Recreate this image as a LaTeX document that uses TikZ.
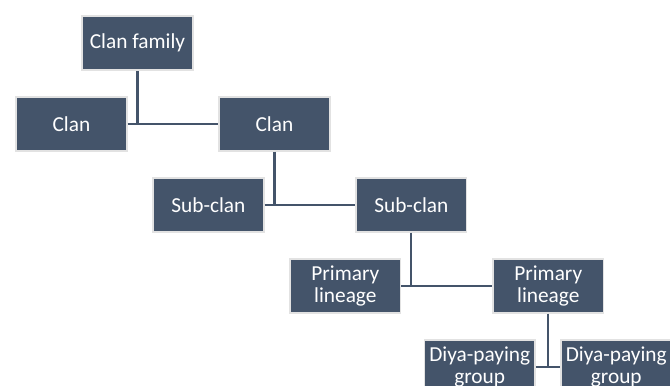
\documentclass[tikz,border=0pt]{standalone}
\usepackage{fontspec}
\setmainfont{Carlito}
\usepackage{xcolor}
\usetikzlibrary{positioning}
\definecolor{slate}{HTML}{44546A}
\definecolor{rim}{HTML}{E2E2E2}

\begin{document}
\begin{tikzpicture}[%
    node distance=19pt and 18.5pt,
    unit/.style={%
      rectangle,
      fill=slate,
      draw=rim,
      line width=1.2pt,
      minimum width=83pt,
      minimum height=40.5pt,
      align=center,
      text=white,
      font=\fontsize{16}{16.5}\selectfont
    },
    link/.style={%
      draw=slate,
      line width=1.7pt
    }
  ]
    \useasboundingbox (0,0) rectangle (502.5pt,-288.75pt);

    \node[unit] (family) at (103.1pt,-32.3pt)                   {Clan family};
    \node[unit] (clan2)  [below right=of family]                  {Clan};
    \node[unit] (clan1)  [node distance=68pt,left=of clan2]       {Clan};
    \node[unit] (sub2)   [below right=of clan2]                   {Sub-clan};
    \node[unit] (sub1)   [node distance=68pt,left=of sub2]        {Sub-clan};
    \node[unit] (prim2)  [below right=of sub2]                    {Primary\\lineage};
    \node[unit] (prim1)  [node distance=68pt,left=of prim2]       {Primary\\lineage};
    \node[unit] (diya1)  [below=of prim2,xshift=-51.4pt]          {Diya-paying\\group};
    \node[unit] (diya2)  [below=of prim2,xshift=51pt]             {Diya-paying\\group};

    % parent down to the bar between its two children
    \draw[link] (family.south) -- (family.south |- clan1.east)
                (clan1.east) -- (clan2.west);
    \draw[link] (clan2.south) -- (clan2.south |- sub1.east)
                (sub1.east) -- (sub2.west);
    \draw[link] (sub2.south) -- (sub2.south |- prim1.east)
                (prim1.east) -- (prim2.west);
    \draw[link] (prim2.south) -- (prim2.south |- diya1.east)
                (diya1.east) -- (diya2.west);
  \end{tikzpicture}
\end{document}
